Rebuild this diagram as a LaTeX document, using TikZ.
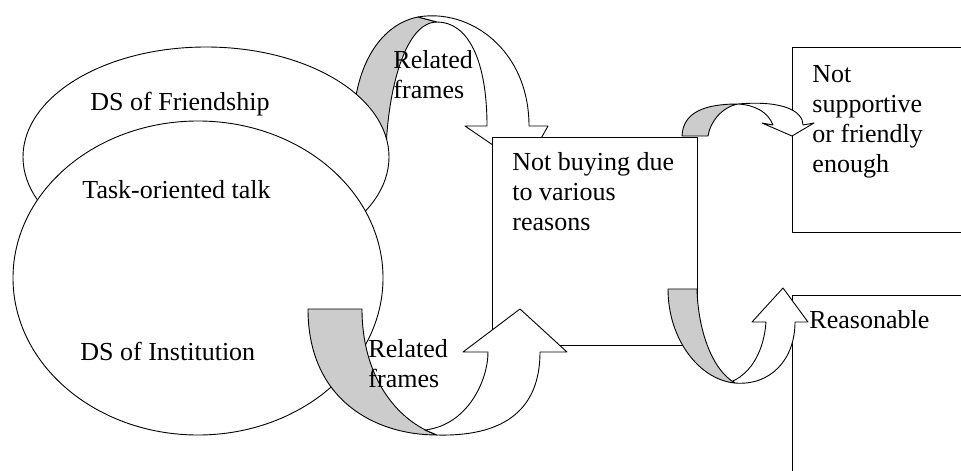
\documentclass[tikz,border=0pt]{standalone}
\usepackage{fontspec}
\setmainfont{Liberation Serif}
\usetikzlibrary{shapes.geometric}
\definecolor{shade}{RGB}{204,204,204}
\begin{document}
\begin{tikzpicture}[x=1pt,y=-1pt,
  line width=0.9pt, line join=round,
  lbl/.style={inner sep=0pt, anchor=base west, align=left, font=\fontsize{26}{30.3}\selectfont},
  oval/.style={draw, fill=white, ellipse, inner sep=0pt},
  frame/.style={draw, fill=white, rectangle, inner sep=0pt, anchor=north west},
  back/.style={draw, fill=shade},
  front/.style={draw, fill=white}]
\useasboundingbox (0,0) rectangle (961,471);
\clip (0,0) rectangle (961,471);

% upper curved arrow (behind the ovals)
\path[back] (386,150) .. controls (388,90) and (405,22) .. (437,22) -- (418,17)
  .. controls (378,25) and (353,70) .. (353,130) -- cycle;
\path[front] (418,17) .. controls (470,8) and (529,50) .. (529,126) -- (548,126)
  -- (525,167) -- (465,126) -- (487,126) .. controls (487,60) and (468,22) .. (437,22) -- cycle;

% ovals
\node[oval, minimum width=366pt, minimum height=220pt] (fr) at (206,157) {};
\node[oval, minimum width=370pt, minimum height=314pt] (ta) at (198,278) {};

% boxes
\node[frame, minimum width=205pt, minimum height=208pt] (nb) at (492,137) {};
\node[frame, minimum width=200pt, minimum height=185pt] (ns) at (792,47) {};
\node[frame, minimum width=200pt, minimum height=200pt] (re) at (792,295) {};

% lower curved arrow
\path[back] (308,309) -- (362,309) .. controls (362,375) and (395,420) .. (437,435)
  .. controls (375,435) and (308,400) .. (308,309) -- cycle;
\path[front] (437,435) .. controls (515,437) and (540,400) .. (540,352) -- (567,352)
  -- (520,309) -- (463,352) -- (488,352) .. controls (488,380) and (468,425) .. (425,430) -- cycle;

% small upper right arrow
\path[back] (682,136) -- (708,136) .. controls (710,122) and (722,107) .. (738,104)
  .. controls (705,104) and (683,112) .. (682,136) -- cycle;
\path[front] (738,104) .. controls (785,100) and (803,112) .. (803,125) -- (814,123)
  -- (792,136) -- (762,123) -- (773,125) .. controls (768,112) and (755,105) .. (738,104) -- cycle;

% small lower right arrow
\path[back] (668,289) -- (697,289) .. controls (698,330) and (712,370) .. (735,383)
  .. controls (700,380) and (668,340) .. (668,289) -- cycle;
\path[front] (735,383) .. controls (770,386) and (795,360) .. (795,322) -- (808,322)
  -- (783,288) -- (752,322) -- (766,322) .. controls (764,350) and (752,372) .. (733,381) -- cycle;

% texts (anchor = baseline of the last line)
\node[lbl] (t1) at (90,110) {DS of Friendship};
\node[lbl] (t2) at (82,198) {Task-oriented talk};
\node[lbl] (t3) at (80,360) {DS of Institution};
\node[lbl] (t4) at (393,98.3) {Related\\frames};
\node[lbl] (t5) at (368,387.3) {Related\\frames};
\node[lbl] (t6) at (512,230.6) {Not buying due\\to various\\reasons};
\node[lbl] (t7) at (812,172.9) {Not\\supportive\\or friendly\\enough};
\node[lbl] (t8) at (809,328) {Reasonable};
\end{tikzpicture}
\end{document}
